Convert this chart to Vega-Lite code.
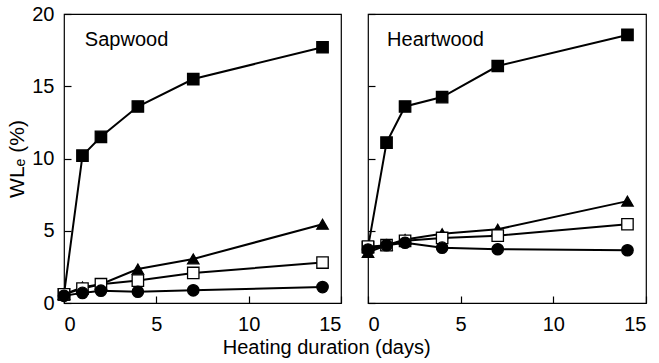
{
  "$schema": "https://vega.github.io/schema/vega-lite/v6.json",
  "background": "white",
  "padding": {"left": 6, "top": 3, "right": 3, "bottom": 0},
  "bounds": "flush",
  "spacing": 27,
  "datasets": {
    "wl": [
      {"panel": "Sapwood", "series": "A", "day": 0, "wl": 0.6},
      {"panel": "Sapwood", "series": "A", "day": 1, "wl": 10.2},
      {"panel": "Sapwood", "series": "A", "day": 2, "wl": 11.5},
      {"panel": "Sapwood", "series": "A", "day": 4, "wl": 13.6},
      {"panel": "Sapwood", "series": "A", "day": 7, "wl": 15.5},
      {"panel": "Sapwood", "series": "A", "day": 14, "wl": 17.7},
      {"panel": "Sapwood", "series": "B", "day": 0, "wl": 0.6},
      {"panel": "Sapwood", "series": "B", "day": 1, "wl": 1.1},
      {"panel": "Sapwood", "series": "B", "day": 2, "wl": 1.3},
      {"panel": "Sapwood", "series": "B", "day": 4, "wl": 2.35},
      {"panel": "Sapwood", "series": "B", "day": 7, "wl": 3.05},
      {"panel": "Sapwood", "series": "B", "day": 14, "wl": 5.45},
      {"panel": "Sapwood", "series": "C", "day": 0, "wl": 0.6},
      {"panel": "Sapwood", "series": "C", "day": 1, "wl": 1.0},
      {"panel": "Sapwood", "series": "C", "day": 2, "wl": 1.3},
      {"panel": "Sapwood", "series": "C", "day": 4, "wl": 1.55},
      {"panel": "Sapwood", "series": "C", "day": 7, "wl": 2.08},
      {"panel": "Sapwood", "series": "C", "day": 14, "wl": 2.8},
      {"panel": "Sapwood", "series": "D", "day": 0, "wl": 0.5},
      {"panel": "Sapwood", "series": "D", "day": 1, "wl": 0.7},
      {"panel": "Sapwood", "series": "D", "day": 2, "wl": 0.85},
      {"panel": "Sapwood", "series": "D", "day": 4, "wl": 0.78},
      {"panel": "Sapwood", "series": "D", "day": 7, "wl": 0.88},
      {"panel": "Sapwood", "series": "D", "day": 14, "wl": 1.1},
      {"panel": "Heartwood", "series": "A", "day": 0, "wl": 3.85},
      {"panel": "Heartwood", "series": "A", "day": 1, "wl": 11.1},
      {"panel": "Heartwood", "series": "A", "day": 2, "wl": 13.6},
      {"panel": "Heartwood", "series": "A", "day": 4, "wl": 14.25},
      {"panel": "Heartwood", "series": "A", "day": 7, "wl": 16.4},
      {"panel": "Heartwood", "series": "A", "day": 14, "wl": 18.55},
      {"panel": "Heartwood", "series": "B", "day": 0, "wl": 3.5},
      {"panel": "Heartwood", "series": "B", "day": 1, "wl": 4.0},
      {"panel": "Heartwood", "series": "B", "day": 2, "wl": 4.4},
      {"panel": "Heartwood", "series": "B", "day": 4, "wl": 4.8},
      {"panel": "Heartwood", "series": "B", "day": 7, "wl": 5.1},
      {"panel": "Heartwood", "series": "B", "day": 14, "wl": 7.05},
      {"panel": "Heartwood", "series": "C", "day": 0, "wl": 3.9},
      {"panel": "Heartwood", "series": "C", "day": 1, "wl": 4.0},
      {"panel": "Heartwood", "series": "C", "day": 2, "wl": 4.3},
      {"panel": "Heartwood", "series": "C", "day": 4, "wl": 4.5},
      {"panel": "Heartwood", "series": "C", "day": 7, "wl": 4.66},
      {"panel": "Heartwood", "series": "C", "day": 14, "wl": 5.45},
      {"panel": "Heartwood", "series": "D", "day": 0, "wl": 3.7},
      {"panel": "Heartwood", "series": "D", "day": 1, "wl": 4.0},
      {"panel": "Heartwood", "series": "D", "day": 2, "wl": 4.17},
      {"panel": "Heartwood", "series": "D", "day": 4, "wl": 3.83},
      {"panel": "Heartwood", "series": "D", "day": 7, "wl": 3.72},
      {"panel": "Heartwood", "series": "D", "day": 14, "wl": 3.65}
    ]
  },
  "title": {"text": "Heating duration (days)", "orient": "bottom", "anchor": "middle", "fontSize": 20, "fontWeight": "normal", "font": "Liberation Sans", "color": "black", "offset": 3},
  "config": {
    "font": "Liberation Sans",
    "view": {"stroke": "black", "strokeWidth": 1.2},
    "axis": {"grid": false, "domain": false, "tickColor": "black", "tickWidth": 1.2, "tickSize": -7, "labelColor": "black", "labelFontSize": 20, "titleColor": "black", "titleFontWeight": "normal", "titleFontSize": 21}
  },
  "hconcat": [
    {
      "width": 277, "height": 289,
      "data": {"name": "wl"},
      "transform": [{"filter": "datum.panel === 'Sapwood'"}],
      "layer": [
        {
          "mark": {"type": "line", "color": "black", "strokeWidth": 2},
          "encoding": {
            "x": {"field": "day", "type": "quantitative", "scale": {"domain": [0, 15], "nice": false}, "axis": {"values": [0, 5, 10, 15], "title": null, "labelPadding": 18}},
            "y": {"field": "wl", "type": "quantitative", "scale": {"domain": [0, 20], "nice": false}, "axis": {"values": [0, 5, 10, 15, 20], "title": "WLₑ (%)", "labelPadding": 17, "titlePadding": 4}},
            "detail": {"field": "series"}
          }
        },
        {
          "mark": {"type": "point", "filled": true, "stroke": "black", "strokeWidth": 1.3, "opacity": 1},
          "encoding": {
            "x": {"field": "day", "type": "quantitative"},
            "y": {"field": "wl", "type": "quantitative"},
            "shape": {"field": "series", "type": "nominal", "scale": {"domain": ["A", "B", "C", "D"], "range": ["square", "triangle-up", "square", "circle"]}, "legend": null},
            "fill": {"field": "series", "type": "nominal", "scale": {"domain": ["A", "B", "C", "D"], "range": ["black", "black", "white", "black"]}, "legend": null},
            "size": {"field": "series", "type": "nominal", "scale": {"domain": ["A", "B", "C", "D"], "range": [130, 130, 110, 100]}, "legend": null}
          }
        },
        {
          "data": {"values": [{"label": "Sapwood"}]},
          "mark": {"type": "text", "align": "left", "baseline": "alphabetic", "fontSize": 20, "color": "black"},
          "encoding": {"x": {"datum": 1.13}, "y": {"datum": 17.8}, "text": {"field": "label"}}
        }
      ]
    },
    {
      "width": 278, "height": 289,
      "data": {"name": "wl"},
      "transform": [{"filter": "datum.panel === 'Heartwood'"}],
      "layer": [
        {
          "mark": {"type": "line", "color": "black", "strokeWidth": 2},
          "encoding": {
            "x": {"field": "day", "type": "quantitative", "scale": {"domain": [0, 15], "nice": false}, "axis": {"values": [0, 5, 10, 15], "title": null, "labelPadding": 18}},
            "y": {"field": "wl", "type": "quantitative", "scale": {"domain": [0, 20], "nice": false}, "axis": {"values": [0, 5, 10, 15, 20], "title": null, "labels": false}},
            "detail": {"field": "series"}
          }
        },
        {
          "mark": {"type": "point", "filled": true, "stroke": "black", "strokeWidth": 1.3, "opacity": 1},
          "encoding": {
            "x": {"field": "day", "type": "quantitative"},
            "y": {"field": "wl", "type": "quantitative"},
            "shape": {"field": "series", "type": "nominal", "scale": {"domain": ["A", "B", "C", "D"], "range": ["square", "triangle-up", "square", "circle"]}, "legend": null},
            "fill": {"field": "series", "type": "nominal", "scale": {"domain": ["A", "B", "C", "D"], "range": ["black", "black", "white", "black"]}, "legend": null},
            "size": {"field": "series", "type": "nominal", "scale": {"domain": ["A", "B", "C", "D"], "range": [130, 130, 110, 100]}, "legend": null}
          }
        },
        {
          "data": {"values": [{"label": "Heartwood"}]},
          "mark": {"type": "text", "align": "left", "baseline": "alphabetic", "fontSize": 20, "color": "black"},
          "encoding": {"x": {"datum": 1.03}, "y": {"datum": 17.8}, "text": {"field": "label"}}
        }
      ]
    }
  ]
}
